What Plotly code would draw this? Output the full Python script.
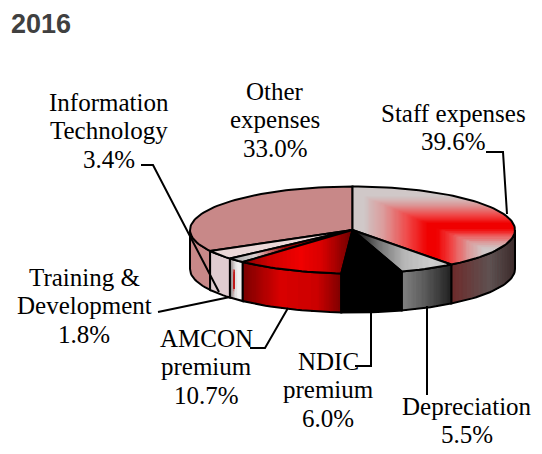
import math
import plotly.graph_objects as go

categories = ["Staff expenses", "Depreciation", "NDIC<br>premium", "AMCON<br>premium",
              "Training &<br>Development", "Information<br>Technology", "Other<br>expenses"]
values = [39.6, 5.5, 6.0, 10.7, 1.8, 3.4, 33.0]
title_text = "2016"

CX, CY, RX, RY, DEPTH = 352.5, 230.0, 162.5, 43.5, 39.0


def pt(a, dy=0.0):
    r = math.radians(a)
    return CX + RX * math.sin(r), CY - RY * math.cos(r) + dy


def hx(c):
    c = c.lstrip("#")
    return [int(c[i:i + 2], 16) for i in (0, 2, 4)]


def mix(stops, v):
    if v <= stops[0][0]:
        return hx(stops[0][1])
    for (p0, c0), (p1, c1) in zip(stops, stops[1:]):
        if v <= p1:
            f = (v - p0) / (p1 - p0)
            a, b = hx(c0), hx(c1)
            return [a[i] + (b[i] - a[i]) * f for i in range(3)]
    return hx(stops[-1][1])


def css(rgb):
    q = [min(255, int(round(x / 4.0) * 4)) for x in rgb]
    return "rgb(%d,%d,%d)" % tuple(q)


def clip(poly, axis, lim, keep_gt):
    out = []
    n = len(poly)
    for i in range(n):
        p, q = poly[i], poly[(i + 1) % n]
        pin = p[axis] >= lim if keep_gt else p[axis] <= lim
        qin = q[axis] >= lim if keep_gt else q[axis] <= lim
        if pin:
            out.append(p)
        if pin != qin:
            f = (lim - p[axis]) / (q[axis] - p[axis])
            out.append((p[0] + (q[0] - p[0]) * f, p[1] + (q[1] - p[1]) * f))
    return out


def wedge(a0, a1):
    n = max(2, int((a1 - a0) / 2))
    return [(CX, CY)] + [pt(a0 + (a1 - a0) * i / n) for i in range(n + 1)]


fig = go.Figure()


def filled(poly, col):
    xs = [p[0] for p in poly] + [poly[0][0]]
    ys = [p[1] for p in poly] + [poly[0][1]]
    fig.add_trace(go.Scatter(x=xs, y=ys, mode="none", fill="toself", fillcolor=col,
                             hoverinfo="skip", showlegend=False))


def add_buckets(buckets):
    for col, polys in buckets.items():
        xs, ys = [], []
        for p in polys:
            xs += [q[0] for q in p] + [p[0][0], None]
            ys += [q[1] for q in p] + [p[0][1], None]
        fig.add_trace(go.Scatter(x=xs, y=ys, mode="none", fill="toself", fillcolor=col,
                                 hoverinfo="skip", showlegend=False))


def outline(poly):
    xs = [p[0] for p in poly] + [poly[0][0]]
    ys = [p[1] for p in poly] + [poly[0][1]]
    fig.add_trace(go.Scatter(x=xs, y=ys, mode="lines", line=dict(color="black", width=2),
                             hoverinfo="skip", showlegend=False))


def top(a0, a1, fn, xonly=True, step=2.0):
    poly = wedge(a0, a1)
    x0 = min(p[0] for p in poly)
    x1 = max(p[0] for p in poly)
    y0 = min(p[1] for p in poly)
    y1 = max(p[1] for p in poly)
    if xonly:
        # each step paints everything to its right, so no seams can open
        x, last = x0, None
        while x < x1:
            c = css(fn(x + step / 2, 0))
            if c != last:
                part = clip(poly, 0, x, True)
                if len(part) > 2:
                    filled(part, c)
                last = c
            x += step
    else:
        buckets = {}
        x = x0
        while x < x1:
            col_poly = clip(clip(poly, 0, x, True), 0, x + step + 0.8, False)
            if len(col_poly) > 2:
                y = y0
                while y < y1:
                    cell = clip(clip(col_poly, 1, y, True), 1, y + step + 0.8, False)
                    if len(cell) > 2:
                        c = css(fn(x + step / 2, y + step / 2))
                        buckets.setdefault(c, []).append(cell)
                    y += step
            x += step
        add_buckets(buckets)
    outline(poly)


def wall(a0, a1, fn, ny=1):
    a0c, a1c = max(a0, 90), min(a1, 270)
    if a1c <= a0c:
        return
    m = max(2, int((a1c - a0c) / 2))
    arc = [a0c + (a1c - a0c) * i / m for i in range(m + 1)]
    n = max(2, int((a1c - a0c) / 0.6))
    last = None
    for i in range(n):
        a = a0c + (a1c - a0c) * i / n
        xm = pt(a + (a1c - a0c) / n / 2)[0]
        for j in range(ny):
            d0 = DEPTH * j / ny
            c = css(fn(xm, (j + 0.5) / ny))
            if ny > 1 or c != last:
                rest = [x for x in arc if x > a]
                # paints from this strip to the wall's end and from this row down
                filled([pt(a, d0)] + [pt(x, d0) for x in rest]
                       + [pt(x, DEPTH) for x in reversed(rest)] + [pt(a, DEPTH)], c)
                last = c
    outline([pt(a) for a in arc] + [pt(a, DEPTH) for a in reversed(arc)])


def flat(col):
    return lambda x, y: hx(col)


def xgrad(stops):
    return lambda x, y: mix(stops, x)


def staff_top(x, y):
    fx, fy = 433.0, 226.0
    dx, dy = x - fx, y - fy
    if dy < 0 and dx < 0:
        t = max(-dx / 70.0, -dy / 30.0)
    elif dy < 0:
        t = -dy / 30.0
    elif dx < 0:
        t = -dx / 70.0
    else:
        t = min(dx / 50.0, dy / 22.0)
    return mix([(0, "#F00000"), (0.08, "#F00000"), (0.4, "#EE5050"), (0.7, "#DC9A9A"), (1, "#CFC8C8")], t)


def training_wall(x, f):
    if 232.0 < x < 235.5 and 0.25 < f < 0.75:
        return hx("#C01818")
    return mix([(230, "#8A8A8A"), (233, "#C8C0C0"), (237, "#F0F0F0"), (243, "#F4F0F0")], x)


def training_top(x, y):
    return mix([(232, "#AAAAAA"), (255, "#D8D0D0"), (262, "#D8A0A0"), (285, "#A00000"), (353, "#700000")], x)


top_fns = [
    (staff_top, False),
    (xgrad([(353, "#000000"), (378, "#707070"), (405, "#B8B8B8"), (430, "#CCCCCC"), (452, "#C4C4C4")]), True),
    (flat("#000000"), True),
    (xgrad([(243, "#8A0000"), (270, "#D00000"), (300, "#F00000"), (322, "#D80000"), (353, "#6A0000")]), True),
    (training_top, True),
    (flat("#ECD6D8"), True),
    (flat("#C98A8A"), True),
]
wall_fns = [
    (xgrad([(453, "#6E2C2C"), (490, "#5E5252"), (516, "#3A2828")]), 1),
    (xgrad([(403, "#808080"), (425, "#5A5A5A"), (451, "#222222")]), 1),
    (flat("#000000"), 1),
    (xgrad([(243, "#7A0000"), (280, "#D80000"), (317, "#CC0000"), (342, "#7A0000")]), 1),
    (training_wall, 16),
    (flat("#E2CCCF"), 1),
    (flat("#C88888"), 1),
]

total = sum(values)
edges = [0.0]
for v in values:
    edges.append(edges[-1] + v / total * 360.0)

for i in [6, 0, 5, 1, 4, 3, 2]:
    wall(edges[i], edges[i + 1], wall_fns[i][0], wall_fns[i][1])
for i in [6, 0, 5, 1, 4, 3, 2]:
    top(edges[i], edges[i + 1], top_fns[i][0], top_fns[i][1])

leaders = [
    [(486, 152), (503, 152), (507, 214)],
    [(427, 395), (427, 306)],
    [(355, 366), (371, 366), (371, 310)],
    [(250, 348), (265, 348), (288, 308)],
    [(158, 312), (230, 297)],
    [(141, 165), (153, 165), (219, 292)],
]
for line in leaders:
    fig.add_trace(go.Scatter(x=[p[0] for p in line], y=[p[1] for p in line], mode="lines",
                             line=dict(color="black", width=2), hoverinfo="skip", showlegend=False))

label_pos = [(453, 113), (467, 406), (328, 361), (206, 338), (84, 277), (109, 102), (275, 91)]
LINE_STEP = 28.6
annotations = []
for name, v, (x, y) in zip(categories, values, label_pos):
    for k, part in enumerate(name.split("<br>") + ["%.1f%%" % v]):
        annotations.append(dict(x=x, y=y + k * LINE_STEP, xref="x", yref="y", showarrow=False,
                                text=part,
                                font=dict(family="Liberation Serif", size=25, color="#000000")))
annotations.append(dict(x=9, y=24, xref="x", yref="y", showarrow=False, xanchor="left",
                        text="<b>%s</b>" % title_text,
                        font=dict(family="Liberation Sans", size=27, color="#404040")))

fig.update_layout(
    width=542, height=454, margin=dict(l=0, r=0, t=0, b=0), autosize=False,
    paper_bgcolor="white", plot_bgcolor="white", showlegend=False, annotations=annotations,
    xaxis=dict(range=[0, 542], visible=False, fixedrange=True),
    yaxis=dict(range=[454, 0], visible=False, fixedrange=True),
)
fig.write_html("out.html", config={"displayModeBar": False},
               post_script="document.body.style.margin='0';document.documentElement.style.overflow='hidden';")
